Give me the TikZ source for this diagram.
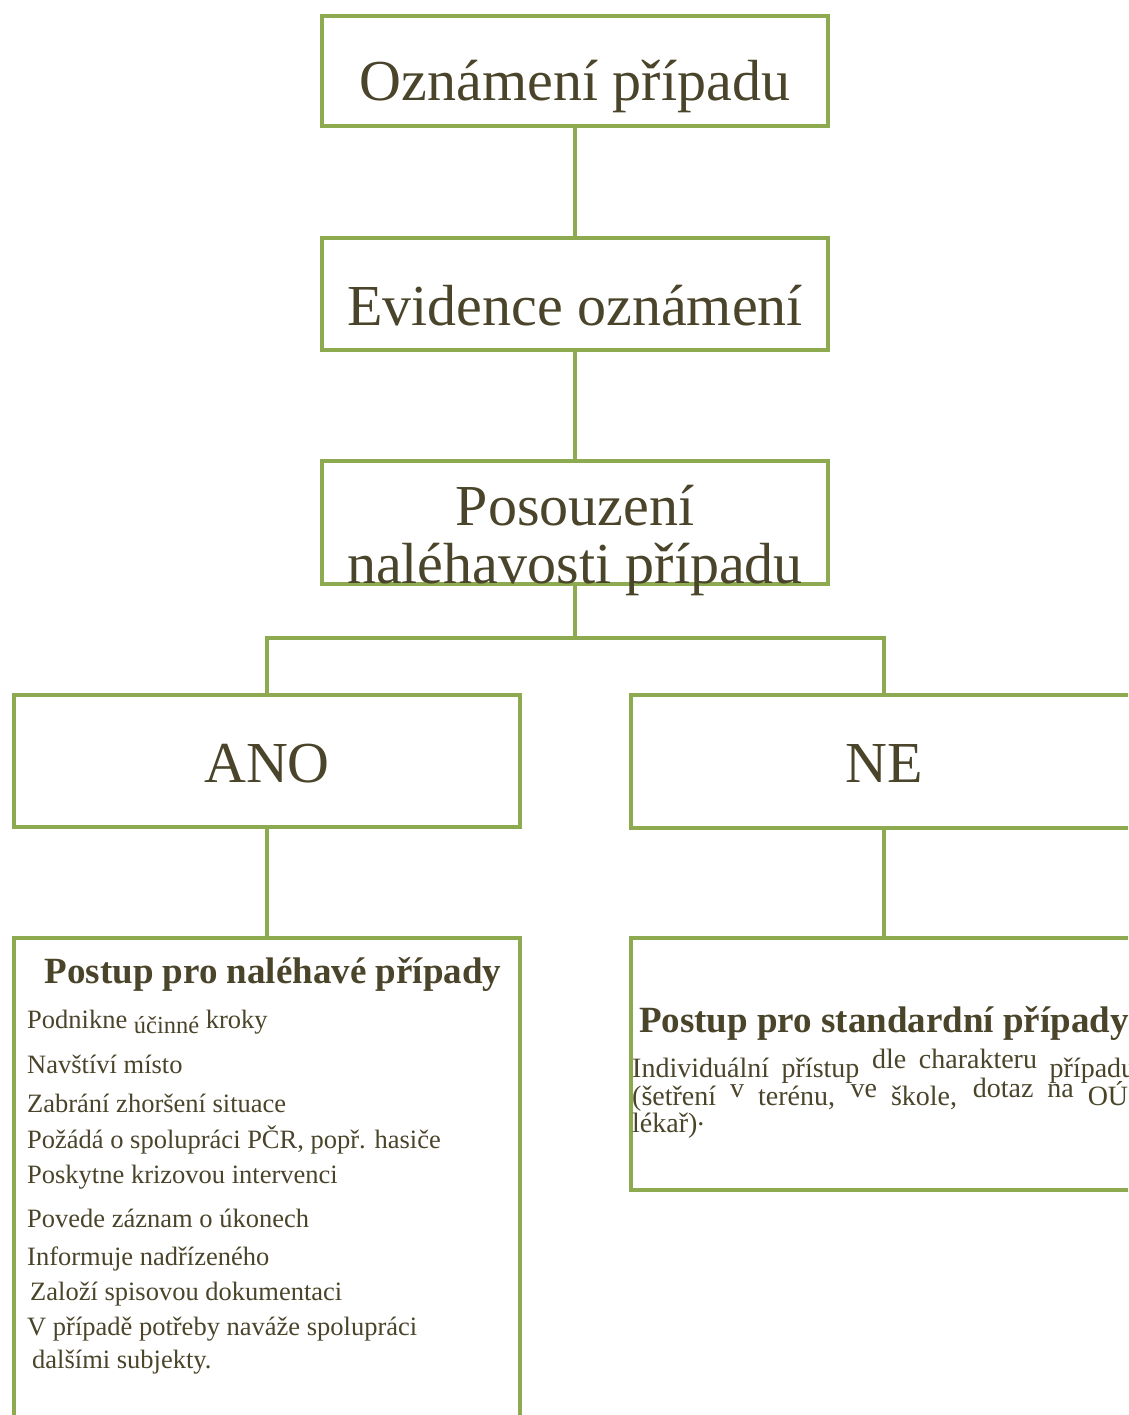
\documentclass[tikz,border=0pt]{standalone}
\usepackage{fontspec}
\setmainfont{Liberation Serif}
\definecolor{grn}{RGB}{141,170,80}
\definecolor{txt}{RGB}{74,68,42}
\begin{document}
\begin{tikzpicture}[x=1pt,y=-1pt,
 box/.style={draw=grn, line width=4.5pt, rectangle, inner sep=0pt, fill=white},
 conn/.style={draw=grn, line width=4.5pt},
 big/.style={text=txt, font=\fontsize{58}{58}\selectfont, inner sep=0pt, anchor=base},
 head/.style={text=txt, font=\fontsize{37}{37}\selectfont\bfseries, inner sep=0pt, anchor=base},
 item/.style={text=txt, font=\fontsize{26.5}{26.5}\selectfont, inner sep=0pt, anchor=base west},
 body/.style={text=txt, font=\fontsize{28}{28}\selectfont, inner sep=0pt, anchor=base west},
]
\useasboundingbox (0,0) rectangle (1128,1415);
\clip (0,0) rectangle (1128,1415);
\fill[white] (0,0) rectangle (1128,1415);

% boxes
\node[box, minimum width=506pt, minimum height=110pt] (b1) at (575,71) {};
\node[box, minimum width=506pt, minimum height=112pt] (b2) at (575,294) {};
\node[box, minimum width=506pt, minimum height=123pt] (b3) at (575,522.5) {};
\node[box, minimum width=506pt, minimum height=132pt] (ano) at (267,761) {};
\node[box, minimum width=506pt, minimum height=133pt] (ne) at (884,761.5) {};
\node[box, minimum width=506pt, minimum height=502pt] (urg) at (267,1189) {};
\node[box, minimum width=506pt, minimum height=252pt] (std) at (884,1064) {};

% connectors
\coordinate (j) at (575,638);
\draw[conn] (b1.south) -- (b2.north);
\draw[conn] (b2.south) -- (b3.north);
\draw[conn] (b3.south) -- (j);
\draw[conn] (j) -| (ano.north);
\draw[conn] (j) -| (ne.north);
\draw[conn] (ano.south) -- (urg.north);
\draw[conn] (ne.south) -- (std.north);

% texts
\node[big] (t1) at (575,101) {Oznámení případu};
\node[big] (t2) at (575,325) {Evidence oznámení};
\node[big] (t3a) at (575,525) {Posouzení};
\node[big] (t3b) at (575,583) {naléhavosti případu};
\node[big] (t4) at (267,782) {ANO};
\node[big] (t5) at (884,782) {NE};

\node[head] (h1) at (273,983) {Postup pro naléhavé případy};
\node[item] (i1) at (27,1028) {Podnikne \raisebox{-5pt}{\fontsize{24.5}{24.5}\selectfont účinné} kroky};
\node[item] (i2) at (27,1073) {Navštíví místo};
\node[item] (i3) at (27,1112) {Zabrání zhoršení situace};
\node[item] (i4) at (27,1148) {Požádá o spolupráci PČR, popř. hasiče};
\node[item] (i5) at (27,1183) {Poskytne krizovou intervenci};
\node[item] (i6) at (27,1227) {Povede záznam o úkonech};
\node[item] (i7) at (27,1265) {Informuje nadřízeného};
\node[item] (i8) at (30,1300) {Založí spisovou dokumentaci};
\node[item] (i9) at (27,1335) {V případě potřeby naváže spolupráci};
\node[item] (i10) at (32,1368) {dalšími subjekty.};

\node[head] (h2) at (884,1032) {Postup pro standardní případy};
\node[body] (r1) at (632,1077) {\makebox[503pt][s]{Individuální přístup \raisebox{9pt}{dle} \raisebox{9pt}{charakteru} případu}};
\node[body] (r2) at (632,1105) {\makebox[503pt][s]{(šetření \raisebox{8pt}{v} terénu, \raisebox{8pt}{ve} škole, \raisebox{8pt}{dotaz} \raisebox{8pt}{na} OÚ,}};
\node[body] (r3) at (632,1132) {lékař)\raisebox{7pt}{.}};
\end{tikzpicture}
\end{document}
